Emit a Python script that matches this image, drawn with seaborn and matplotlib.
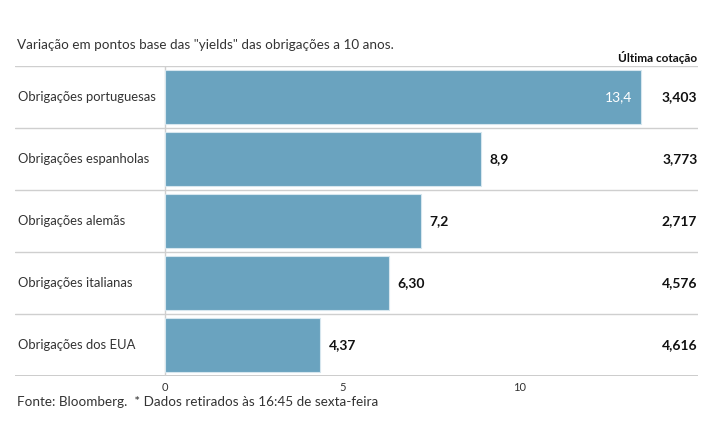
import matplotlib
matplotlib.use("Agg")
import matplotlib.pyplot as plt
import seaborn as sns
import pandas as pd

# Dados
categorias = ["Obrigações portuguesas", "Obrigações espanholas", "Obrigações alemãs",
              "Obrigações italianas", "Obrigações dos EUA"]
variacao = [13.4, 8.9, 7.2, 6.30, 4.37]
variacao_txt = ["13,4", "8,9", "7,2", "6,30", "4,37"]
ultima_cotacao = ["3,403", "3,773", "2,717", "4,576", "4,616"]
ticks = [0, 5, 10]

df = pd.DataFrame({"categoria": categorias, "variacao": variacao})

sns.set_style("white")
plt.rcParams["font.family"] = ["Lato", "DejaVu Sans"]

COR_BARRA = "#6aa3bf"
COR_LINHA = "#cfcfcf"

fig = plt.figure(figsize=(7.15, 4.45), dpi=100)
ax = fig.add_axes([15 / 715, 1 - 376 / 445, 683 / 715, 310 / 445])

sns.barplot(data=df, x="variacao", y="categoria", orient="h", color=COR_BARRA,
            saturation=1, width=0.88, edgecolor="#d6e6ee", linewidth=0.8, ax=ax)

ax.set_xlim(-150 / 35.5, 533 / 35.5)
ax.set_ylim(4.5, -0.5)

# linhas separadoras
for y in [-0.5, 0.5, 1.5, 2.5, 3.5]:
    ax.axhline(y, color=COR_LINHA, lw=1, zorder=0)
ax.axhline(4.5, color="#c4c4c4", lw=1.2, zorder=0)
ax.axvline(0, color=COR_LINHA, lw=1, zorder=0)

for s in ax.spines.values():
    s.set_visible(False)

ax.set_xticks(ticks)
ax.set_xticklabels([str(t) for t in ticks], fontsize=8, color="#333333")
ax.tick_params(axis="x", direction="in", length=8, color=COR_LINHA, pad=4)
ax.set_yticks([])
ax.set_xlabel("")
ax.set_ylabel("")

for i, (cat, v, txt, cot) in enumerate(zip(categorias, variacao, variacao_txt, ultima_cotacao)):
    ax.text(0.004, i, cat, transform=ax.get_yaxis_transform(), ha="left", va="center",
            fontsize=9.4, color="#333333")
    if v > 12:
        ax.text(v - 0.25, i, txt, ha="right", va="center", fontsize=10, color="white")
    else:
        ax.text(v + 0.25, i, txt, ha="left", va="center", fontsize=10,
                fontweight="bold", color="#111111")
    ax.text(0.999, i, cot, transform=ax.get_yaxis_transform(), ha="right", va="center",
            fontsize=10, fontweight="bold", color="#111111")

fig.text(17 / 715, 1 - 45 / 445, 'Variação em pontos base das "yields" das obrigações a 10 anos.',
         ha="left", va="center", fontsize=9.7, color="#333333")
fig.text(697 / 715, 1 - 57 / 445, "Última cotação", ha="right", va="center",
         fontsize=8.5, fontweight="bold", color="#111111")
fig.text(17 / 715, 1 - 402 / 445, "Fonte: Bloomberg.  * Dados retirados às 16:45 de sexta-feira",
         ha="left", va="center", fontsize=9.7, color="#333333")

fig.savefig("out.png", dpi=100)
